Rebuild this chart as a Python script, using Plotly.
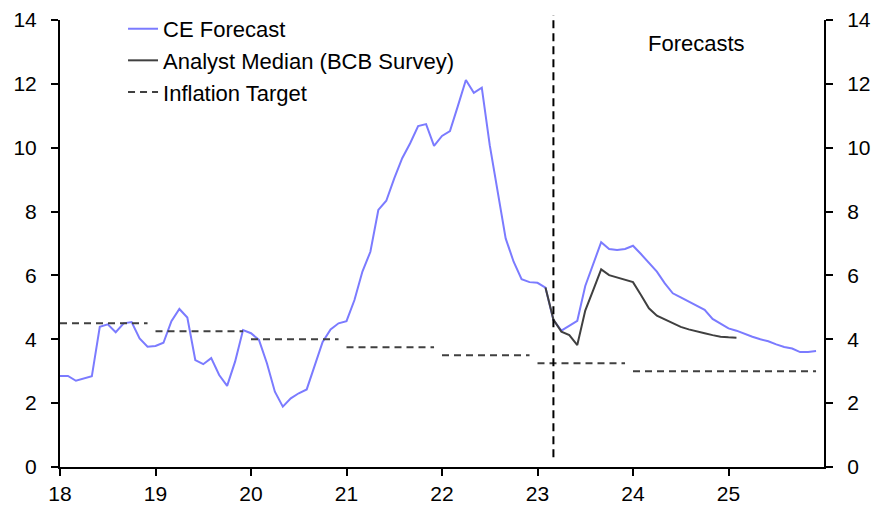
import plotly.graph_objects as go

# ---------------- data ----------------
# monthly, Jan 2018 ... Dec 2025
ce_forecast = [
    2.85, 2.85, 2.70, 2.77, 2.84, 4.39, 4.47, 4.22, 4.50, 4.54, 4.03, 3.77,   # 2018
    3.79, 3.89, 4.57, 4.95, 4.68, 3.35, 3.22, 3.41, 2.88, 2.54, 3.30, 4.29,   # 2019
    4.19, 3.98, 3.25, 2.36, 1.89, 2.15, 2.31, 2.43, 3.14, 3.92, 4.31, 4.50,   # 2020
    4.57, 5.23, 6.12, 6.74, 8.05, 8.34, 9.04, 9.67, 10.14, 10.68, 10.74, 10.06,  # 2021
    10.37, 10.52, 11.31, 12.12, 11.72, 11.88, 10.08, 8.68, 7.16, 6.43, 5.88, 5.79,  # 2022
    5.77, 5.62, 4.60, 4.27, 4.42, 4.58, 5.67, 6.38, 7.04, 6.83, 6.80, 6.83,   # 2023
    6.93, 6.67, 6.38, 6.12, 5.75, 5.44, 5.31, 5.18, 5.05, 4.92, 4.64, 4.48,   # 2024
    4.34, 4.27, 4.17, 4.08, 4.00, 3.94, 3.84, 3.76, 3.71, 3.60, 3.60, 3.63,   # 2025
]
ce_start = 18.0

analyst_median = [
    5.62, 4.62, 4.24, 4.13, 3.82, 4.90, 5.54, 6.19, 6.01, 5.94, 5.88,         # Feb-Dec 2023
    5.79, 5.39, 4.97, 4.74, 4.62, 4.50, 4.39, 4.31, 4.24, 4.19, 4.13, 4.08,   # 2024
    4.06, 4.05,                                                               # Jan-Feb 2025
]
analyst_start = 23.0 + 1 / 12

target_years = [18, 19, 20, 21, 22, 23, 24, 25]
target_values = [4.50, 4.25, 4.00, 3.75, 3.50, 3.25, 3.00, 3.00]

forecast_start = 23.0 + 2 / 12

x_ticks = [18, 19, 20, 21, 22, 23, 24, 25]
y_ticks = [0, 2, 4, 6, 8, 10, 12, 14]

# ---------------- build ----------------
ce_x = [ce_start + i / 12 for i in range(len(ce_forecast))]
an_x = [analyst_start + i / 12 for i in range(len(analyst_median))]

tg_x, tg_y = [], []
for i, (yr, val) in enumerate(zip(target_years, target_values)):
    cont = i > 0 and target_values[i - 1] == val
    if i > 0 and not cont:
        tg_x.append(None)
        tg_y.append(None)
    for m in range(12):
        tg_x.append(yr + m / 12)
        tg_y.append(val)

FONT = "Liberation Sans, Arial, sans-serif"
BLUE = "#7b7bff"
DARK = "#404040"

fig = go.Figure()
fig.add_trace(go.Scatter(x=ce_x, y=ce_forecast, mode="lines", name="CE Forecast",
                         line=dict(color=BLUE, width=2)))
fig.add_trace(go.Scatter(x=an_x, y=analyst_median, mode="lines",
                         name="Analyst Median (BCB Survey)",
                         line=dict(color=DARK, width=2)))
fig.add_trace(go.Scatter(x=tg_x, y=tg_y, mode="lines", name="Inflation Target",
                         yaxis="y2", connectgaps=False,
                         line=dict(color=DARK, width=2, dash="7px,5px")))

fig.add_shape(type="line", xref="x", yref="paper", x0=forecast_start, x1=forecast_start,
              y0=0.022, y1=1.011, line=dict(color="black", width=2, dash="8px,5px"))

fig.add_annotation(text="Forecasts", xref="x", yref="paper", x=24.66, y=0.9485,
                   yanchor="middle", xanchor="center",
                   showarrow=False, font=dict(family=FONT, size=22, color="black"))

axis_common = dict(showgrid=False, zeroline=False, showline=True, linecolor="black",
                   linewidth=2, ticks="outside", ticklen=7, tickwidth=2,
                   tickcolor="black", automargin=False,
                   tickfont=dict(family=FONT, size=21, color="black"))

# page body adds an 8px margin, so the figure is 8px smaller and margins shifted
fig.update_layout(
    width=879, height=504,
    margin=dict(l=52, r=63, t=12, b=45, autoexpand=False),
    paper_bgcolor="white", plot_bgcolor="white",
    font=dict(family=FONT, size=21, color="black"),
    xaxis=dict(range=[18, 26], tickvals=x_ticks, ticktext=[str(t) for t in x_ticks],
               ticklabelstandoff=0, **axis_common),
    yaxis=dict(range=[0, 14], tickvals=y_ticks, ticklabelstandoff=10, **axis_common),
    yaxis2=dict(range=[0, 14], tickvals=y_ticks, overlaying="y", side="right",
                ticklabelstandoff=10, **axis_common),
    legend=dict(x=0.0825, y=1.027, xanchor="left", yanchor="top",
                bgcolor="rgba(0,0,0,0)", font=dict(family=FONT, size=22),
                tracegroupgap=0, itemwidth=30),
    showlegend=True,
)

fig.write_html("out.html")
